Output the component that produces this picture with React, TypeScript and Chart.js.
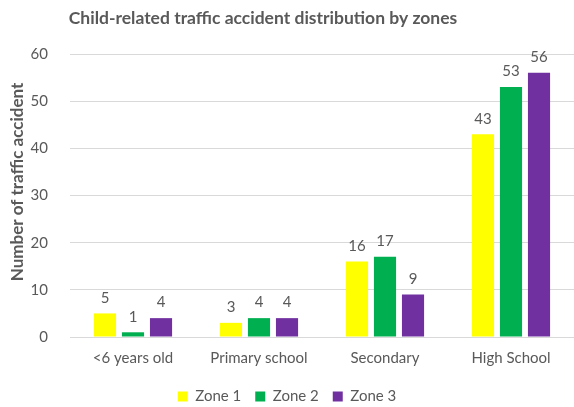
import React, { useEffect, useRef } from "react";
import { Chart, registerables } from "chart.js";

Chart.register(...registerables);

const TITLE = "Child-related traffic accident distribution by zones";
const Y_TITLE = "Number of traffic accident";
const categories = ["<6 years old", "Primary school", "Secondary", "High School"];
const seriesNames = ["Zone 1", "Zone 2", "Zone 3"];
const zone1 = [5, 3, 16, 43];
const zone2 = [1, 4, 17, 53];
const zone3 = [4, 4, 9, 56];
const colors = ["#FFFF00", "#00B050", "#7030A0"];
const FONT = "Lato, 'Noto Sans', sans-serif";
const TEXT = "#595959";

const titlePlugin = {
  id: "customTitle",
  afterDraw(chart: any) {
    const ctx = chart.ctx;
    ctx.save();
    ctx.font = `bold 17.5px ${FONT}`;
    ctx.fillStyle = TEXT;
    ctx.textAlign = "center";
    ctx.textBaseline = "middle";
    ctx.fillText(TITLE, 263, 18);
    ctx.translate(18, 182);
    ctx.rotate(-Math.PI / 2);
    ctx.font = `bold 17px ${FONT}`;
    ctx.fillText(Y_TITLE, 0, 0);
    ctx.restore();
  },
};

const valuePlugin = {
  id: "valueLabels",
  afterDatasetsDraw(chart: any) {
    const ctx = chart.ctx;
    ctx.save();
    ctx.font = `15px ${FONT}`;
    ctx.fillStyle = TEXT;
    ctx.textAlign = "center";
    ctx.textBaseline = "bottom";
    chart.data.datasets.forEach((ds: any, i: number) => {
      const meta = chart.getDatasetMeta(i);
      meta.data.forEach((bar: any, j: number) => {
        ctx.fillText(String(ds.data[j]), bar.x, bar.y - 8);
      });
    });
    ctx.restore();
  },
};

export default function App() {
  const ref = useRef<HTMLCanvasElement>(null);
  useEffect(() => {
    const chart = new Chart(ref.current!, {
      type: "bar",
      data: {
        labels: categories,
        datasets: [zone1, zone2, zone3].map((d, i) => ({
          label: seriesNames[i],
          data: d,
          backgroundColor: colors[i],
          borderWidth: 0,
          barPercentage: 0.79,
          categoryPercentage: 0.667,
        })),
      },
      options: {
        animation: false,
        responsive: false,
        layout: { padding: { top: 54, left: 0, right: 0, bottom: -7 } },
        plugins: {
          legend: {
            position: "bottom",
            labels: {
              boxWidth: 10,
              boxHeight: 10,
              color: TEXT,
              font: { family: FONT, size: 15 },
              padding: 14,
            },
          },
          tooltip: { enabled: false },
        },
        scales: {
          x: {
            grid: { display: false, drawTicks: false },
            border: { color: "#d9d9d9" },
            ticks: { color: TEXT, font: { family: FONT, size: 15 }, padding: 12 },
            afterFit(scale: any) {
              scale.height = 38;
            },
          },
          y: {
            min: 0,
            max: 60,
            ticks: { stepSize: 10, color: TEXT, font: { family: FONT, size: 15 }, padding: 22 },
            grid: { color: "#d9d9d9", drawTicks: false },
            border: { display: false },
            afterFit(scale: any) {
              scale.width = 70;
            },
          },
        },
      },
      plugins: [titlePlugin, valuePlugin],
    });
    return () => chart.destroy();
  }, []);
  return (
    <div style={{ position: "fixed", left: 0, top: 0, width: 574, height: 407, background: "#fff" }}>
      <canvas ref={ref} width={574} height={407} />
    </div>
  );
}
